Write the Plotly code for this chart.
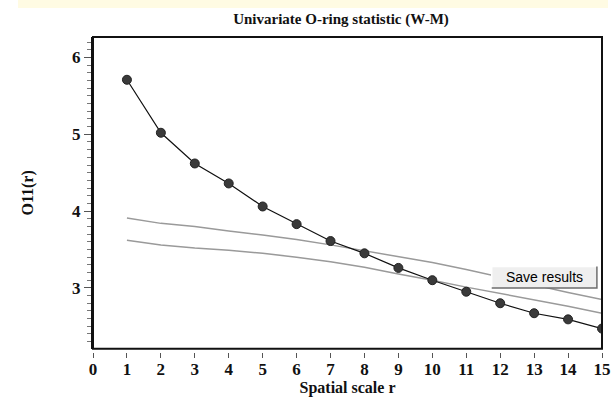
import plotly.graph_objects as go

r = list(range(1, 16))
o11 = [5.71, 5.02, 4.62, 4.36, 4.06, 3.83, 3.61, 3.45, 3.26, 3.10, 2.95, 2.80, 2.67, 2.59, 2.47]
env_upper = [3.91, 3.84, 3.80, 3.74, 3.69, 3.63, 3.56, 3.48, 3.41, 3.33, 3.24, 3.14, 3.04, 2.94, 2.85]
env_lower = [3.62, 3.56, 3.52, 3.49, 3.45, 3.40, 3.34, 3.27, 3.18, 3.10, 3.01, 2.93, 2.84, 2.76, 2.67]

x_ticks = list(range(0, 16))
y_ticks = [3, 4, 5, 6]

W, H = 616, 409
L, R, T, B = 93, 14, 37, 57
plot_h = H - T - B
plot_w = W - L - R
box_bottom_px = 348.7
ydom0 = (H - B - box_bottom_px) / plot_h

serif = "Liberation Serif"

fig = go.Figure()
fig.add_trace(go.Scatter(x=r, y=env_upper, mode="lines",
                         line=dict(color="#9a9a9a", width=1.5), hoverinfo="skip"))
fig.add_trace(go.Scatter(x=r, y=env_lower, mode="lines",
                         line=dict(color="#9a9a9a", width=1.5), hoverinfo="skip"))
fig.add_trace(go.Scatter(x=r, y=o11, mode="lines+markers",
                         line=dict(color="#111111", width=1.2),
                         marker=dict(size=9, color="#3a3a3a", line=dict(color="#222222", width=1))))

# plot box
fig.add_shape(type="rect", xref="x domain", yref="y domain", x0=0, x1=1, y0=0, y1=1,
              line=dict(color="#111111", width=2), layer="above")
# top yellow band
fig.add_shape(type="rect", xref="paper", yref="paper",
              x0=(18 - L) / plot_w, x1=(608 - L) / plot_w,
              y0=1 + (T - 8) / plot_h, y1=1 + (T + 2) / plot_h,
              line=dict(width=0), fillcolor="#fffbe3", layer="below")

# Save results button (raised look)
bx0, bx1, by0, by1 = 11.75, 14.85, 3.0, 3.28
fig.add_shape(type="rect", x0=bx0, x1=bx1, y0=by0, y1=by1,
              line=dict(width=0), fillcolor="#efefef", layer="above")
fig.add_shape(type="path", path=f"M {bx0},{by0} L {bx0},{by1} L {bx1},{by1}",
              line=dict(color="#ffffff", width=1.5), layer="above")
fig.add_shape(type="path", path=f"M {bx0},{by0} L {bx1},{by0} L {bx1},{by1}",
              line=dict(color="#6e6e6e", width=1.5), layer="above")
fig.add_annotation(x=(bx0 + bx1) / 2, y=(by0 + by1) / 2, text="Save results",
                   showarrow=False, font=dict(family="Liberation Sans", size=14, color="#000"))

fig.update_layout(
    width=W, height=H,
    margin=dict(l=L, r=R, t=T, b=B, autoexpand=False),
    paper_bgcolor="white", plot_bgcolor="white",
    showlegend=False,
    title=dict(text="<b>Univariate O-ring statistic (W-M)</b>", x=341 / W, xanchor="center",
               xref="container", y=1 - 19 / H, yanchor="middle",
               font=dict(family=serif, size=15, color="#111")),
    xaxis=dict(range=[0, 15], tickmode="array", tickvals=x_ticks,
               ticktext=[f"<b>{v}</b>" for v in x_ticks], automargin=False,
               anchor="free", position=0,
               showgrid=False, zeroline=False, showline=False,
               ticks="outside", ticklen=5, tickcolor="#555", tickwidth=1,
               ticklabelstandoff=-3,
               tickfont=dict(family=serif, size=17, color="#111"),
               title=dict(text="<b>Spatial scale r</b>", standoff=2,
                          font=dict(family=serif, size=16, color="#111"))),
    yaxis=dict(range=[2.208, 6.267], domain=[ydom0, 1], tickmode="array", tickvals=y_ticks,
               ticktext=[f"<b>{v}</b>" for v in y_ticks], automargin=False,
               showgrid=False, zeroline=False, showline=True, linecolor="#111", linewidth=2,
               ticks="outside", ticklen=7, tickcolor="#555", tickwidth=1,
               minor=dict(dtick=0.1, ticks="outside", ticklen=4, tickcolor="#777", tickwidth=1),
               tickfont=dict(family=serif, size=17, color="#111"),
               title=dict(text="<b>O11(r)</b>", standoff=34,
                          font=dict(family=serif, size=16, color="#111"))),
)

fig.write_html("out.html", config={"displayModeBar": False},
               post_script="document.body.style.margin='0';")
